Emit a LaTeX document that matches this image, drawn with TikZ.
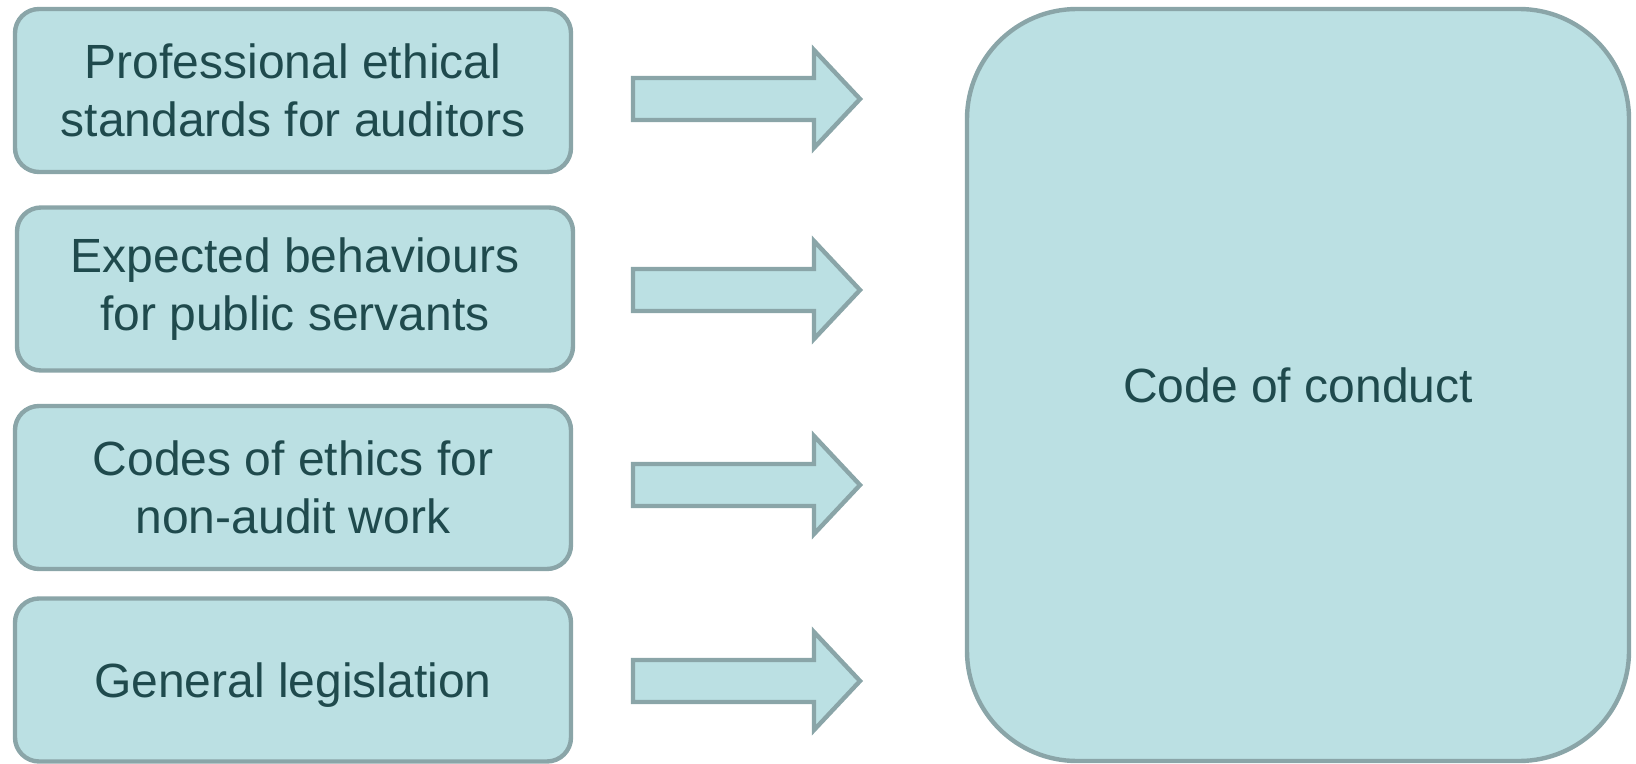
\documentclass[tikz,border=0pt]{standalone}
\usepackage{fontspec}
\setmainfont{Liberation Sans}
\definecolor{boxfill}{HTML}{BBE0E3}
\definecolor{boxline}{HTML}{8AA5A8}
\definecolor{boxtext}{HTML}{1F4A4D}
\tikzset{
  source/.style={draw=boxline, fill=boxfill, line width=2.2pt, rounded corners=12pt,
    minimum width=278pt, minimum height=81.5pt, align=center, text=boxtext,
    font=\fontsize{24}{28.7}\selectfont},
  target/.style={source, rounded corners=55pt, minimum width=331pt, minimum height=376pt},
  blockarrow/.style={draw=boxline, fill=boxfill, line width=2.2pt}
}

\begin{document}
\begin{tikzpicture}[x=0.5pt, y=-0.5pt]
\useasboundingbox (0,0) rectangle (1636,764);
\node[source] (prof) at (293,90.5) {Professional ethical\\standards for auditors};
\node[source] (behav) at (295,289) {Expected behaviours\\for public servants};
\node[source] (ethics) at (293,487.5) {Codes of ethics for\\non-audit work};
\node[source, text depth=0pt] (legis) at (293,680) {General legislation};
\node[target] (code) at (1298,385) {Code of conduct};
% block arrows towards the code of conduct
\foreach \c in {99, 290, 485, 681}
  \draw[blockarrow] (633,\c-21) -- (814,\c-21) -- (814,\c-49) -- (860,\c)
    -- (814,\c+49) -- (814,\c+21) -- (633,\c+21) -- cycle;
\end{tikzpicture}
\end{document}
